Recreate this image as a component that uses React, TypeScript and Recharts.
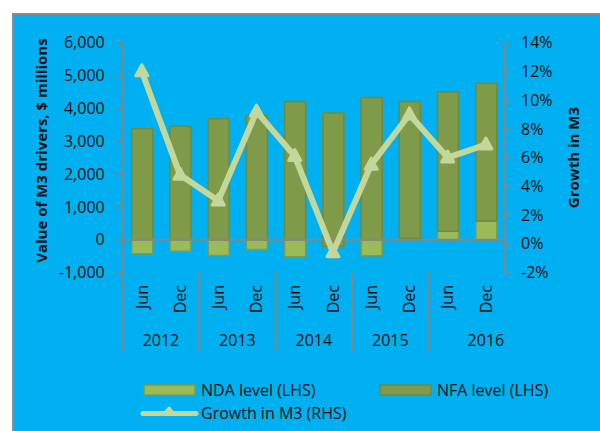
import React from 'react';
import { ComposedChart, Bar, Line, XAxis, YAxis, ReferenceLine, Cell, Label } from 'recharts';

const months = ['Jun', 'Dec', 'Jun', 'Dec', 'Jun', 'Dec', 'Jun', 'Dec', 'Jun', 'Dec'];
const years = ['2012', '2012', '2013', '2013', '2014', '2014', '2015', '2015', '2016', '2016'];
const ndaLevel = [-430, -355, -485, -303, -524, -200, -490, 40, 260, 565];
const nfaLevel = [3381, 3455, 3680, 3790, 4210, 3860, 4330, 4170, 4237, 4200];
const growthM3 = [12.0, 4.8, 3.0, 9.2, 6.1, -0.6, 5.5, 9.0, 6.0, 6.9];
const leftTicks = [-1000, 0, 1000, 2000, 3000, 4000, 5000, 6000];
const rightTicks = [-2, 0, 2, 4, 6, 8, 10, 12, 14];

const data = months.map((m, i) => ({
  key: `${m}-${years[i]}`,
  month: m,
  year: years[i],
  nda: ndaLevel[i],
  nfa: nfaLevel[i],
  growth: growthM3[i],
}));

const FONT = '"Open Sans", "Noto Sans", sans-serif';
const NDA_FILL = '#9BBB59';
const NFA_FILL = '#7F9A48';
const BAR_STROKE = '#6F8A3C';
const LINE_COLOR = '#C4D79B';
const GRAY = '#868686';

const fmtThousands = (v: number) => (v < 0 ? '-' : '') + Math.abs(v).toLocaleString('en-US');

const Triangle = (props: any) => {
  const { cx, cy } = props;
  if (cx == null || cy == null) return null;
  const hw = 6;
  const h = 11;
  const d = `M${cx},${cy - h * 0.6} L${cx + hw},${cy + h * 0.4} L${cx - hw},${cy + h * 0.4} Z`;
  return <path d={d} fill={LINE_COLOR} stroke={LINE_COLOR} strokeWidth={3} strokeLinejoin="round" />;
};

const CategoryTick = (props: any) => {
  const { x, y, index, width } = props;
  const band = width / data.length;
  const row = data[index];
  if (!row) return null;
  const isGroupStart = index === 0 || data[index - 1].year !== row.year;
  const groupSize = data.filter((d) => d.year === row.year).length;
  const isLastGroup = row.year === years[years.length - 1];
  let yearX = x + ((groupSize - 1) * band) / 2;
  if (isLastGroup) yearX = x + (groupSize - 1) * band;
  return (
    <g>
      <text
        x={x}
        y={y + 12.5}
        transform={`rotate(-90, ${x}, ${y + 12.5})`}
        textAnchor="end"
        dy="0.36em"
        fontSize={16}
        fontFamily={FONT}
        fill="#111"
      >
        {row.month}
      </text>
      {isGroupStart && (
        <>
          <line x1={x - band / 2} x2={x - band / 2} y1={y} y2={y + 79} stroke={GRAY} strokeWidth={2} />
          <text x={yearX} y={y + 73.5} textAnchor="middle" fontSize={16} fontFamily={FONT} fill="#111">
            {row.year}
          </text>
        </>
      )}
    </g>
  );
};

const LeftTitle = (props: any) => {
  const { viewBox } = props;
  const cx = viewBox.x - 21;
  const cy = viewBox.y + viewBox.height / 2 - 7;
  return (
    <text
      x={cx}
      y={cy}
      transform={`rotate(-90, ${cx}, ${cy})`}
      textAnchor="middle"
      dy="0.36em"
      fontSize={15}
      fontWeight="bold"
      fontFamily={FONT}
      fill="#111"
    >
      Value of M3 drivers, $ millions
    </text>
  );
};

const RightTitle = (props: any) => {
  const { viewBox } = props;
  const cx = viewBox.x + 69;
  const cy = viewBox.y + viewBox.height / 2;
  return (
    <text
      x={cx}
      y={cy}
      transform={`rotate(-90, ${cx}, ${cy})`}
      textAnchor="middle"
      dy="0.36em"
      fontSize={15}
      fontWeight="bold"
      fontFamily={FONT}
      fill="#111"
    >
      Growth in M3
    </text>
  );
};

const legendText: React.CSSProperties = {
  position: 'absolute',
  fontFamily: FONT,
  fontSize: 16,
  color: '#111',
  lineHeight: '20px',
  whiteSpace: 'nowrap',
};

export default function App() {
  return (
    <div style={{ position: 'absolute', left: 0, top: 0, width: 600, height: 431, background: '#fff', overflow: 'hidden' }}>
      <div
        style={{
          position: 'absolute',
          left: 12,
          top: 13,
          width: 600,
          height: 440,
          background: '#00B0F0',
          border: '2px solid #8C8C8C',
          boxSizing: 'border-box',
        }}
      />
      <div style={{ position: 'absolute', left: 0, top: 0 }}>
        <ComposedChart
          width={600}
          height={431}
          data={data}
          stackOffset="sign"
          margin={{ top: 42.7, right: 35, bottom: 68.5, left: 62.7 }}
        >
          <XAxis
            dataKey="key"
            xAxisId="cat"
            height={90}
            axisLine={false}
            tickLine={false}
            tickSize={0}
            tickMargin={0}
            interval={0}
            tick={<CategoryTick />}
          />
          <YAxis
            yAxisId="left"
            orientation="left"
            width={60}
            domain={[-1000, 6000]}
            ticks={leftTicks}
            interval={0}
            tickFormatter={fmtThousands}
            axisLine={{ stroke: GRAY, strokeWidth: 2 }}
            tickLine={{ stroke: GRAY, strokeWidth: 2 }}
            tickSize={6}
            tickMargin={12}
            tick={{ fontSize: 16, fontFamily: FONT, fill: '#111' }}
          >
            <Label content={<LeftTitle />} />
          </YAxis>
          <YAxis
            yAxisId="right"
            orientation="right"
            width={60}
            domain={[-2, 14]}
            ticks={rightTicks}
            interval={0}
            tickFormatter={(v: number) => `${v}%`}
            axisLine={{ stroke: GRAY, strokeWidth: 2 }}
            tickLine={{ stroke: GRAY, strokeWidth: 2 }}
            tickSize={5}
            tickMargin={11}
            tick={{ fontSize: 16, fontFamily: FONT, fill: '#111', textAnchor: 'start' }}
          >
            <Label content={<RightTitle />} />
          </YAxis>
          <Bar
            dataKey="nda"
            name="NDA level (LHS)"
            stackId="m3"
            xAxisId="cat"
            yAxisId="left"
            barSize={21}
            fill={NDA_FILL}
            stroke={NFA_FILL}
            strokeWidth={1.5}
            isAnimationActive={false}
          >
            {data.map((d, i) => (
              <Cell key={d.key} fill={i === 5 ? NFA_FILL : NDA_FILL} stroke={i === 5 ? BAR_STROKE : NFA_FILL} />
            ))}
          </Bar>
          <Bar
            dataKey="nfa"
            name="NFA level (LHS)"
            stackId="m3"
            xAxisId="cat"
            yAxisId="left"
            barSize={21}
            fill={NFA_FILL}
            stroke={BAR_STROKE}
            strokeWidth={1.5}
            isAnimationActive={false}
          />
          <ReferenceLine yAxisId="left" xAxisId="cat" y={0} stroke={GRAY} strokeWidth={2} />
          <Line
            type="linear"
            dataKey="growth"
            name="Growth in M3 (RHS)"
            xAxisId="cat"
            yAxisId="right"
            stroke={LINE_COLOR}
            strokeWidth={6}
            strokeLinejoin="round"
            dot={<Triangle />}
            activeDot={false}
            isAnimationActive={false}
          />
        </ComposedChart>
      </div>
      <svg style={{ position: 'absolute', left: 0, top: 0 }} width={600} height={431} pointerEvents="none">
        <rect x={144} y={385} width={51} height={10} fill={NDA_FILL} stroke={NFA_FILL} strokeWidth={1.5} />
        <rect x={380} y={385} width={51} height={10} fill={NFA_FILL} stroke={BAR_STROKE} strokeWidth={1.5} />
        <line x1={143} x2={196} y1={413.5} y2={413.5} stroke={LINE_COLOR} strokeWidth={5} strokeLinecap="round" />
        <path d="M169,408 L174,414 L164,414 Z" fill={LINE_COLOR} stroke={LINE_COLOR} strokeWidth={3} strokeLinejoin="round" />
      </svg>
      <div style={{ ...legendText, left: 201, top: 380 }}>NDA level (LHS)</div>
      <div style={{ ...legendText, left: 437, top: 380 }}>NFA level (LHS)</div>
      <div style={{ ...legendText, left: 201, top: 403 }}>Growth in M3 (RHS)</div>
    </div>
  );
}
